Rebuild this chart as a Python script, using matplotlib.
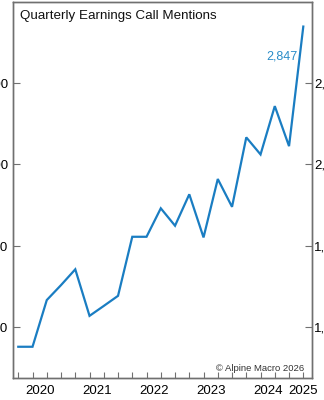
import matplotlib.pyplot as plt

plt.rcParams['font.family'] = ['Liberation Sans', 'DejaVu Sans']

# quarterly mentions, 2020 Q1 .. 2025 Q1
quarters = list(range(21))
mentions = [879, 879, 1166, 1258, 1355, 1069, 1130, 1192, 1555, 1555,
            1730, 1623, 1816, 1551, 1910, 1739, 2166, 2061, 2358, 2112, 2847]
years = ['2020', '2021', '2022', '2023', '2024', '2025']
year_pos = [1.5, 5.5, 9.5, 13.5, 17.5, 20]
yticks = [1000, 1500, 2000, 2500]
ytick_labels = ['1,000', '1,500', '2,000', '2,500']

line_color = '#1a7dc2'
spine_color = '#707070'
ylim = (687, 2998)

fig = plt.figure(figsize=(3.24, 4.0), dpi=100)
ax = fig.add_axes([13 / 324, 22 / 400, 298.7 / 324, 376 / 400])

ax.plot(quarters, mentions, color=line_color, lw=1.6, solid_joinstyle='miter')

ax.set_xlim(-0.37, 20.59)
ax.set_ylim(*ylim)

# quarterly tick marks, year labels as minor ticks without marks
ax.xaxis.remove_overlapping_locs = False
ax.set_xticks(quarters)
ax.set_xticklabels([])
ax.set_xticks(year_pos, minor=True)
ax.set_xticklabels(years, minor=True, fontsize=9.5)
ax.tick_params(axis='x', which='major', direction='in', length=4, width=0.8, color=spine_color)
ax.tick_params(axis='x', which='minor', length=0, pad=5)

ax.set_yticks(yticks)
ax.set_yticklabels(ytick_labels, fontsize=9.5)
ax.tick_params(axis='y', direction='in', length=5, width=0.8, color=spine_color, pad=3.5)

# right axis, same scale
ax2 = ax.twinx()
ax2.set_ylim(*ylim)
ax2.set_yticks(yticks)
ax2.set_yticklabels(ytick_labels, fontsize=9.5)
ax2.tick_params(axis='y', direction='in', length=5, width=0.8, color=spine_color, pad=1.8)

for a in (ax, ax2):
    for s in a.spines.values():
        s.set_color(spine_color)
        s.set_linewidth(1.0)

ax.text(7 / 298.7, 0.962, 'Quarterly Earnings Call Mentions',
        transform=ax.transAxes, fontsize=9.6, ha='left', va='center', color='#111111')

ax.text(19.58, 2660, '2,847', color='#2a8cc8', fontsize=9, ha='right', va='center')

ax.text(0.974, 0.014, '\u00a9 Alpine Macro 2026', transform=ax.transAxes,
        fontsize=6.8, ha='right', va='bottom', color='#333333')

fig.savefig('out.png', dpi=100)
